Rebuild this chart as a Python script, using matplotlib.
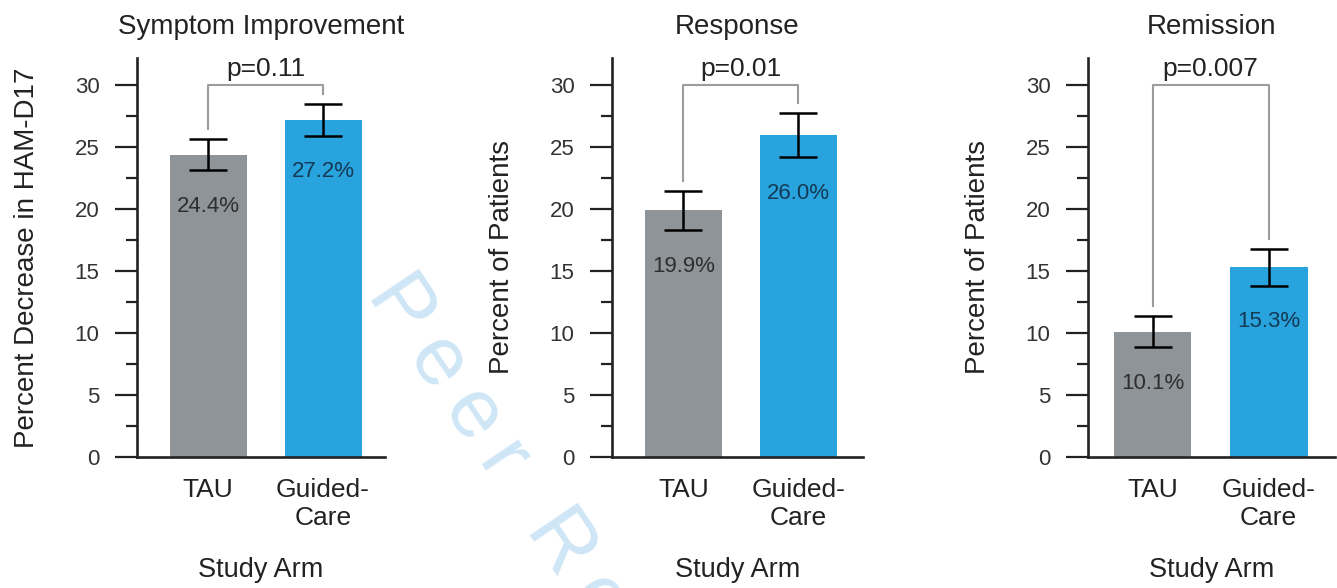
import matplotlib
matplotlib.use("Agg")
import matplotlib.pyplot as plt
from matplotlib.ticker import MultipleLocator
import numpy as np

plt.rcParams['font.family'] = ['Liberation Sans', 'DejaVu Sans']

# data
categories = ["TAU", "Guided-\nCare"]
titles = ["Symptom Improvement", "Response", "Remission"]
ylabels = ["Percent Decrease in HAM-D17", "Percent of Patients", "Percent of Patients"]
tau = [24.4, 19.9, 10.1]
guided = [27.2, 26.0, 15.3]
tau_err = [1.25, 1.6, 1.25]
guided_err = [1.3, 1.8, 1.5]
p_values = ["p=0.11", "p=0.01", "p=0.007"]
bracket_top = 30

grey = '#8f9499'
blue = '#29a3dd'
axis_col = '#222222'

fig = plt.figure(figsize=(13.37, 5.88), dpi=100)

# axes boxes in figure fraction: left, width, xlim
boxes = [(0.1025, 0.1855, (-0.62, 1.54)),
         (0.4577, 0.1877, (-0.62, 1.56)),
         (0.8138, 0.1850, (-0.556, 1.575))]
bottom, height = 0.2228, 0.6786

for i in range(3):
    left, width, xlim = boxes[i]
    ax = fig.add_axes([left, bottom, width, height])
    ax.set_facecolor('none')

    vals = [tau[i], guided[i]]
    errs = [tau_err[i], guided_err[i]]
    x = np.arange(len(categories))

    ax.bar(x, vals, width=0.67, color=[grey, blue], zorder=1)
    ax.errorbar(x, vals, yerr=errs, fmt='none', ecolor='black', elinewidth=1.8,
                capsize=13.5, capthick=1.8, zorder=3)

    # value labels inside the bars
    lab_cols = ['#2e2e2e', '#143a55']
    for k in range(2):
        ax.text(x[k], vals[k] - errs[k] - 2.9, f"{vals[k]:.1f}%", ha='center',
                va='center', fontsize=16, color=lab_cols[k], zorder=4)

    # significance bracket
    y0 = vals[0] + errs[0] + 0.8
    y1 = vals[1] + errs[1] + 0.8
    ax.plot([x[0], x[0], x[1], x[1]], [y0, bracket_top, bracket_top, y1],
            color='#9c9c9c', lw=1.5, clip_on=False, zorder=2)
    ax.text((x[0] + x[1]) / 2, bracket_top + 0.75, p_values[i], ha='center',
            va='baseline', fontsize=19, color='#222222')

    ax.set_xlim(*xlim)
    ax.set_ylim(0, 32.2)
    ax.yaxis.set_major_locator(MultipleLocator(5))
    ax.yaxis.set_minor_locator(MultipleLocator(2.5))
    ax.set_xticks(x)
    ax.set_xticklabels(categories, fontsize=19, color='#222222')
    ax.tick_params(axis='x', length=0, pad=15)
    ax.tick_params(axis='y', which='major', length=16, width=1.6, color=axis_col,
                   labelsize=16, labelcolor='#333333', pad=11)
    ax.tick_params(axis='y', which='minor', length=8, width=1.6, color=axis_col)

    for s in ['top', 'right']:
        ax.spines[s].set_visible(False)
    for s in ['left', 'bottom']:
        ax.spines[s].set_linewidth(1.9)
        ax.spines[s].set_color(axis_col)

    ax.set_title(titles[i], fontsize=20, color='#222222', pad=17)
    ax.set_ylabel(ylabels[i], fontsize=20, color='#222222', labelpad=25)
    ax.set_xlabel("Study Arm", fontsize=19.5, color='#222222', labelpad=20)

# letter-spaced watermark (thin spaces), runs off the bottom edge like in the source
wm = "\u2009".join("Peer Review")
fig.text(0.2745, 0.50, wm, fontsize=60, color='#cfe6f7',
         rotation=-56, rotation_mode='anchor', ha='left', va='baseline', zorder=-1)

fig.savefig('out.png', dpi=100)
